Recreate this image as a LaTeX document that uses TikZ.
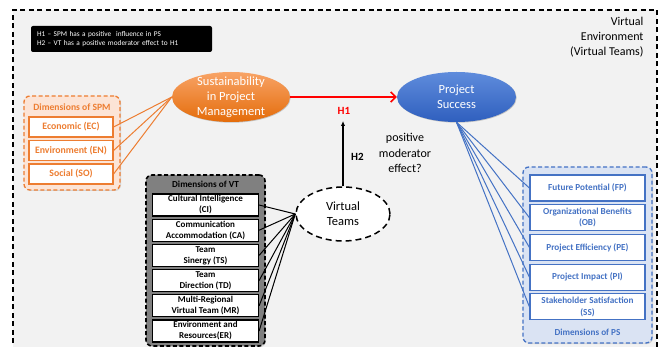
\documentclass[tikz,border=0pt]{standalone}
\usepackage{fontspec}
\setmainfont{Carlito}
\usetikzlibrary{positioning, shapes.geometric, shadows, arrows.meta}
\definecolor{envgray}{RGB}{242,242,242}
\definecolor{spmorange}{RGB}{237,125,49}
\definecolor{spmlight}{RGB}{252,228,214}
\definecolor{spmtop}{RGB}{248,163,102}
\definecolor{spmbot}{RGB}{228,108,10}
\definecolor{psblue}{RGB}{68,114,196}
\definecolor{pslight}{RGB}{218,227,243}
\definecolor{pstop}{RGB}{95,140,220}
\definecolor{psbot}{RGB}{47,95,190}
\definecolor{vtgray}{RGB}{128,128,128}
\newcommand{\fsz}[2]{\fontsize{#1}{#2}\selectfont}

\begin{document}
\begin{tikzpicture}[x=1pt, y=-1pt]
    % concepts (ellipses)
    \tikzstyle{concept}=[ellipse, inner sep=0, align=center, font=\fsz{12.5}{15}]
    \tikzstyle{glow}=[drop shadow={shadow xshift=0.7pt, shadow yshift=-0.7pt, opacity=0.4}]
    % dashed panels holding the dimensions
    \tikzstyle{panel}=[rounded corners=6pt, line width=1.3pt, dash pattern=on 4pt off 2.5pt, drop shadow={shadow xshift=1pt, shadow yshift=-1pt, opacity=0.25}]
    % one dimension
    \tikzstyle{dim}=[draw, fill=white, line width=1.2pt, align=center, inner sep=1pt]
    \useasboundingbox (0,0) rectangle (666,347);
    % virtual environment
    \fill[envgray] (13,10) rectangle (657,360);
    \draw[line width=1.3pt, dash pattern=on 5pt off 3.5pt] (13,360) -- (13,10) -- (657,10) -- (657,360);
    \node[fill=black, rounded corners=2pt, text=white, align=left, text width=169, inner xsep=6, minimum height=26, font=\fsz{7.3}{9}] (legend) at (121.5,39) {H1 -- SPM has a positive\ \ influence in PS\\H2 -- VT has a positive moderator effect to H1};
    \node[anchor=north east, align=right, font=\fsz{12}{14.6}] (venv) at (647,14) {Virtual\\Environment\\(Virtual Teams)};

    % sustainability in PM and its dimensions
    \node[panel, draw=spmorange, fill=spmlight, minimum width=96, minimum height=94] (spmpanel) at (72,143) {};
    \node[text=spmorange, font=\bfseries\fsz{9.6}{11}] (spmtitle) at (72,107) {Dimensions of SPM};
    \tikzstyle{spmdim}=[dim, draw=spmorange, text=spmorange, minimum width=84, minimum height=20, font=\bfseries\fsz{9.8}{11}]
    \node[spmdim] (ec) at (71,127) {Economic (EC)};
    \node[spmdim, below=2.3pt of ec] (en) {Environment (EN)};
    \node[spmdim, below=2.3pt of en] (so) {Social (SO)};
    \node[concept, glow, top color=spmtop, bottom color=spmbot, text=white, minimum width=118, minimum height=50, inner ysep=-4] (spm) at (231,97) {Sustainability\\in Project\\Management};
    \draw[spmorange, line width=1pt] (ec.east) -- (spm.west);
    \draw[spmorange, line width=1pt] (en.east) -- (spm.west);
    \draw[spmorange, line width=1pt] (so.east) -- (spm.west);

    % project success and its dimensions
    \node[concept, glow, top color=pstop, bottom color=psbot, text=white, minimum width=119, minimum height=50] (ps) at (456.5,97) {Project\\Success};
    \node[panel, draw=psblue, fill=pslight, minimum width=129, minimum height=176] (pspanel) at (587.5,255) {};
    \tikzstyle{psdim}=[dim, draw=psblue, text=psblue, minimum width=115, minimum height=26, font=\bfseries\fsz{9.2}{11.5}]
    \node[psdim] (fp) at (587.5,188) {Future Potential (FP)};
    \node[psdim, below=2.5pt of fp] (ob) {Organizational Benefits\\(OB)};
    \node[psdim, below=2.5pt of ob] (pe) {Project Efficiency (PE)};
    \node[psdim, below=2.5pt of pe] (pi) {Project Impact (PI)};
    \node[psdim, below=2.5pt of pi] (ss) {Stakeholder Satisfaction\\(SS)};
    \node[text=psblue, font=\bfseries\fsz{9.2}{10}] (pstitle) at (587.5,332) {Dimensions of PS};
    \draw[psblue, line width=1pt] (ps.south) -- (fp.west);
    \draw[psblue, line width=1pt] (ps.south) -- (ob.west);
    \draw[psblue, line width=1pt] (ps.south) -- (pe.west);
    \draw[psblue, line width=1pt] (ps.south) -- (pi.west);
    \draw[psblue, line width=1pt] (ps.south) -- (ss.west);

    % H1
    \draw[red, line width=1.6pt, -{Straight Barb[length=5pt, width=10pt]}] (spm) -- (ps);
    \node[text=red, font=\bfseries\fsz{11}{13}] (h1) at (344,111) {H1};

    % virtual teams and its dimensions
    \node[panel, draw=black, fill=vtgray, line width=1.6pt, minimum width=119, minimum height=171] (vtpanel) at (205.5,260.5) {};
    \node[font=\bfseries\fsz{9.2}{10}] (vttitle) at (205.5,184) {Dimensions of VT};
    \tikzstyle{vtdim}=[dim, draw=black, minimum width=106, minimum height=22, font=\bfseries\fsz{9}{11}]
    \node[vtdim] (ci) at (205.5,205) {Cultural Intelligence\\(CI)};
    \node[vtdim, below=2pt of ci] (ca) {Communication\\Accommodation (CA)};
    \node[vtdim, below=2pt of ca] (ts) {Team\\Sinergy (TS)};
    \node[vtdim, below=2pt of ts] (td) {Team\\Direction (TD)};
    \node[vtdim, below=2pt of td] (mr) {Multi-Regional\\Virtual Team (MR)};
    \node[vtdim, below=2pt of mr] (er) {Environment and\\Resources(ER)};
    \node[concept, draw, fill=white, line width=1.5pt, dash pattern=on 6pt off 4pt, minimum width=94, minimum height=54] (vt) at (343,214) {Virtual\\Teams};
    \draw[line width=1pt] (ci.east) -- (vt.west);
    \draw[line width=1pt] (ca.east) -- (vt.west);
    \draw[line width=1pt] (ts.east) -- (vt.west);
    \draw[line width=1pt] (td.east) -- (vt.west);
    \draw[line width=1pt] (mr.east) -- (vt.west);
    \draw[line width=1pt] (er.east) -- (vt.west);

    % H2
    \coordinate (h2top) at (343,121);
    \draw[line width=1.3pt, -{Latex[length=5pt, width=4.5pt]}] (vt.north) -- (h2top);
    \node[font=\bfseries\fsz{11}{13}] (h2) at (357.5,157) {H2};
    \node[align=center, font=\fsz{12}{15.8}] (moder) at (405,153) {positive\\moderator\\effect?};
\end{tikzpicture}
\end{document}
